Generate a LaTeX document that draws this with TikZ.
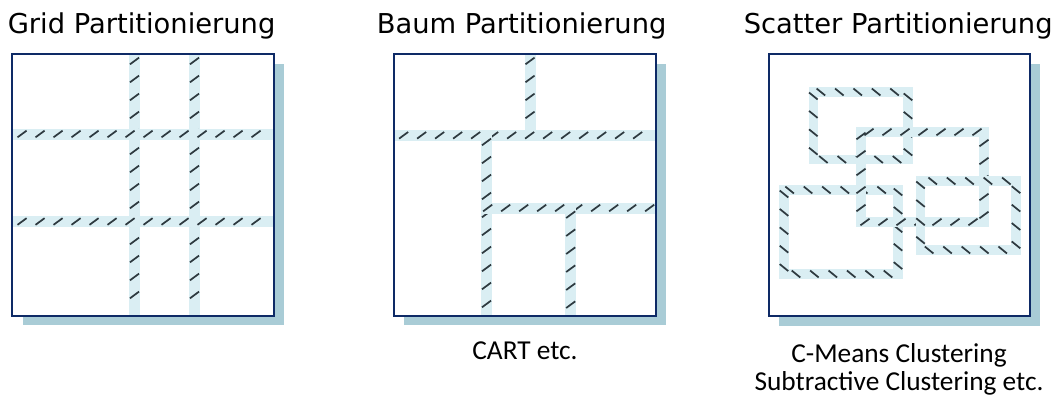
\documentclass[tikz,border=0pt]{standalone}
\usepackage{fontspec}
\setmainfont{DejaVu Sans}
\newfontfamily\carlito{Carlito}
\usetikzlibrary{decorations.markings,shadows}
\definecolor{navy}{HTML}{0E2A66}
\definecolor{shade}{HTML}{A9CCD6}
\definecolor{bandc}{HTML}{DAEEF3}
\definecolor{markc}{HTML}{2E3A40}
\tikzset{
  panel/.style={fill=white, minimum width=196pt, minimum height=196pt, inner sep=0pt,
    drop shadow={shadow xshift=7.5pt, shadow yshift=-7.5pt, fill=shade, opacity=1}},
  border/.style={draw=navy, line width=1.5pt},
  title/.style={anchor=base west, inner sep=0pt, font=\fontsize{20.5pt}{24pt}\selectfont},
  caption/.style={anchor=base, inner sep=0pt, font=\carlito\fontsize{20.5pt}{24pt}\selectfont},
  band/.style={draw=bandc, line width=8.25pt},
  sband/.style={draw=bandc, line width=7pt, line join=miter},
  hatchmark/.style={draw=markc, line width=1.3pt},
  fwd/.style={postaction={decorate}, decoration={markings,
    mark=between positions #1 and -3pt step 13.5pt with
    {\pgftransformresetnontranslations \draw[hatchmark] (-3.4pt,-2.5pt)--(3.4pt,2.5pt);}}},
  bwd/.style={postaction={decorate}, decoration={markings,
    mark=between positions #1 and -3pt step 13.8pt with
    {\pgftransformresetnontranslations \draw[hatchmark] (-3.2pt,2.6pt)--(3.2pt,-2.6pt);}}},
}
\begin{document}
\begin{tikzpicture}[x=0.75pt,y=-0.75pt]
\useasboundingbox (0,0) rectangle (1059,396);

% titles
\node[title] (t1) at (7.5,33.3) {Grid Partitionierung};
\node[title] (t2) at (376.5,33.3) {Baum Partitionierung};
\node[title] (t3) at (743.5,33.3) {Scatter Partitionierung};

% panels
\node[panel] (g) at (143.35,184.65) {};
\node[panel] (b) at (525,184.65) {};
\node[panel] (s) at (899.5,185) {};

% grid partition
\draw[band,fwd=5pt] (134.5,54.3) -- (134.5,315);
\draw[band,fwd=5pt] (194.5,54.3) -- (194.5,315);
\draw[band,fwd=7pt] (12.7,134) -- (274,134);
\draw[band,fwd=7pt] (12.7,221.5) -- (274,221.5);

% tree partition
\draw[band,fwd=5pt] (530,54.3) -- (530,130);
\draw[band,fwd=7pt] (394.3,135.3) -- (655.7,135.3);
\draw[band,fwd=5pt] (486.5,135.3) -- (486.5,315);
\draw[band,fwd=5pt] (481,208) -- (655.7,208);
\draw[band,fwd=5pt] (570.7,208) -- (570.7,315);

% scatter partition
\draw[sband,bwd=3pt] (813.3,92) rectangle (908,159.5);
\draw[sband,bwd=3pt] (784,190) rectangle (898,274);
\draw[sband,fwd=3pt] (861,132) rectangle (984,222);
\draw[sband,bwd=3pt] (920.5,181) rectangle (1016,250);

% borders on top
\draw[border] (g.south west) rectangle (g.north east);
\draw[border] (b.south west) rectangle (b.north east);
\draw[border] (s.south west) rectangle (s.north east);

% captions
\node[caption] (c1) at (525,359) {CART etc.};
\node[caption] (c2) at (899,362) {C-Means Clustering};
\node[caption] (c3) at (899,390) {Subtractive Clustering etc.};
\end{tikzpicture}
\end{document}
